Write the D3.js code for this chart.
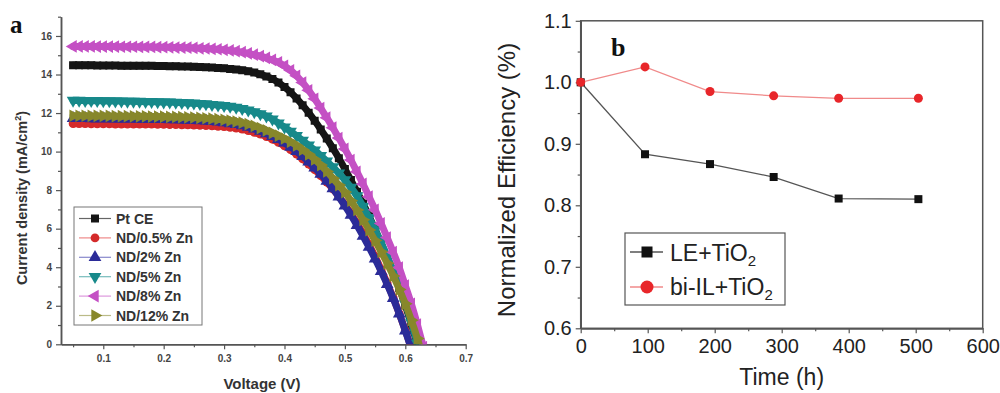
<!DOCTYPE html>
<html><head><meta charset="utf-8">
<script src="https://cdn.jsdelivr.net/npm/d3@7"></script>
<style>body{margin:0;background:#fff}svg{display:block}</style>
</head><body>
<svg id="chart" width="1000" height="393"></svg>
<script>
// ---------- Panel a data ----------
const voltage = [0.05,0.06,0.07,0.08,0.09,0.10,0.11,0.12,0.13,0.14,0.15,0.16,0.17,0.18,0.19,0.20,0.21,0.22,0.23,0.24,0.25,0.26,0.27,0.28,0.29,0.30,0.31,0.32,0.33,0.34,0.35,0.36,0.37,0.38,0.39,0.40,0.41,0.42,0.43,0.44,0.45,0.46,0.47,0.48,0.49,0.50,0.51,0.52,0.53,0.54,0.55,0.56,0.57,0.58,0.59,0.60,0.61,0.62,0.63];
const seriesNames = ["Pt CE","ND/0.5% Zn","ND/2% Zn","ND/5% Zn","ND/8% Zn","ND/12% Zn"];
const jPtCE = [14.48,14.48,14.48,14.48,14.47,14.47,14.47,14.47,14.46,14.46,14.46,14.45,14.45,14.45,14.44,14.44,14.43,14.43,14.42,14.41,14.40,14.39,14.38,14.36,14.34,14.32,14.29,14.26,14.22,14.17,14.10,14.01,13.90,13.77,13.58,13.35,13.08,12.76,12.40,12.02,11.60,11.15,10.68,10.18,9.66,9.10,8.52,7.92,7.30,6.64,5.96,5.25,4.52,3.75,2.92,2.02,1.04,-0.02,-1.10];
const jZn05 = [11.45,11.45,11.45,11.44,11.44,11.44,11.44,11.43,11.43,11.43,11.43,11.42,11.42,11.42,11.41,11.41,11.40,11.40,11.39,11.38,11.37,11.36,11.35,11.33,11.31,11.29,11.26,11.22,11.16,11.09,11.00,10.90,10.78,10.64,10.48,10.30,10.10,9.87,9.62,9.35,9.06,8.75,8.42,8.06,7.67,7.25,6.79,6.29,5.75,5.17,4.55,3.89,3.18,2.42,1.60,0.72,-0.22,-1.25,-2.35];
const jZn2 = [11.72,11.72,11.72,11.71,11.71,11.71,11.71,11.70,11.70,11.70,11.70,11.69,11.69,11.68,11.68,11.67,11.66,11.66,11.65,11.64,11.63,11.61,11.59,11.57,11.54,11.50,11.46,11.41,11.35,11.27,11.18,11.07,10.94,10.79,10.63,10.45,10.24,10.01,9.75,9.47,9.16,8.83,8.47,8.08,7.65,7.19,6.70,6.18,5.62,5.04,4.43,3.79,3.11,2.38,1.58,0.70,-0.25,-1.30,-2.40];
const jZn5 = [12.65,12.65,12.64,12.64,12.64,12.63,12.63,12.62,12.62,12.61,12.61,12.60,12.59,12.59,12.58,12.57,12.56,12.55,12.54,12.52,12.51,12.49,12.47,12.44,12.41,12.38,12.34,12.29,12.23,12.15,12.06,11.96,11.84,11.68,11.48,11.27,11.05,10.82,10.58,10.33,10.07,9.79,9.50,9.20,8.88,8.53,8.14,7.70,7.16,6.57,5.94,5.27,4.56,3.81,3.00,2.12,1.13,0.05,-1.05];
const jZn8 = [15.46,15.46,15.46,15.46,15.45,15.45,15.45,15.45,15.44,15.44,15.44,15.43,15.43,15.43,15.42,15.42,15.41,15.40,15.40,15.39,15.38,15.36,15.35,15.33,15.31,15.28,15.25,15.21,15.16,15.10,15.03,14.95,14.86,14.76,14.63,14.45,14.22,13.93,13.58,13.18,12.74,12.26,11.76,11.24,10.70,10.14,9.56,8.95,8.32,7.66,6.98,6.27,5.54,4.78,3.98,3.05,2.10,1.02,-0.15];
const jZn12 = [11.86,11.86,11.86,11.85,11.85,11.85,11.85,11.84,11.84,11.84,11.83,11.83,11.83,11.82,11.82,11.81,11.80,11.80,11.79,11.78,11.77,11.75,11.73,11.71,11.68,11.65,11.61,11.56,11.50,11.42,11.33,11.22,11.10,10.97,10.83,10.68,10.51,10.32,10.10,9.86,9.60,9.30,8.97,8.62,8.26,7.90,7.45,6.97,6.46,5.93,5.38,4.80,4.20,3.55,2.85,2.10,1.25,0.30,-0.75];
const voltageTicks = [0.1,0.2,0.3,0.4,0.5,0.6,0.7];
const voltageMinor = [0.05,0.15,0.25,0.35,0.45,0.55,0.65];
const currentTicks = [0,2,4,6,8,10,12,14,16];
const currentMinor = [1,3,5,7,9,11,13,15,17];

// ---------- Panel b data ----------
const hours = [0,96,193,288,385,504];
const leTiO2 = [1.000,0.883,0.867,0.846,0.811,0.810];
const biIL = [1.000,1.025,0.985,0.978,0.974,0.974];
const timeTicks = [0,100,200,300,400,500,600];
const timeMinor = [50,150,250,350,450,550];
const effTicks = [0.6,0.7,0.8,0.9,1.0,1.1];
const effMinor = [0.65,0.75,0.85,0.95,1.05];

// ---------- styles ----------
const colors = ["#151515","#d42a2a","#2b2b98","#17898a","#c450c4","#87872b"];
const lightColors = ["#666","#e88","#88c","#7bb","#d9d","#bb8"];
const sans = "'Liberation Sans', Arial, sans-serif";
const serif = "'Liberation Serif', 'Times New Roman', serif";

const svg = d3.select("#chart");

// ================= Panel a =================
const xA = d3.scaleLinear().domain([0.03,0.7]).range([61,465.7]);
const yA = d3.scaleLinear().domain([0,17]).range([344.3,16.7]);
const gA = svg.append("g");

svg.append("defs").append("clipPath").attr("id","clipA")
  .append("rect").attr("x",xA(0.03)).attr("y",yA(17)).attr("width",xA(0.7)-xA(0.03)).attr("height",yA(0)-yA(17));

function styleAxis(g, fs, weight, color){
  g.select(".domain").attr("stroke","#555").attr("stroke-width",1.5);
  g.selectAll(".tick line").attr("stroke","#555").attr("stroke-width",1.2);
  g.selectAll(".tick text").attr("font-family",sans).attr("font-size",fs).attr("font-weight",weight).attr("fill",color);
}
// y axis a
const yAx = gA.append("g").attr("transform",`translate(${xA(0.03)},0)`)
  .call(d3.axisLeft(yA).tickValues(currentTicks).tickSize(5).tickSizeOuter(0).tickPadding(4).tickFormat(d3.format("d")));
styleAxis(yAx,"10px","bold","#444");
const yAm = gA.append("g").attr("transform",`translate(${xA(0.03)},0)`)
  .call(d3.axisLeft(yA).tickValues(currentMinor).tickSize(3).tickSizeOuter(0).tickFormat(""));
styleAxis(yAm,"10px","bold","#444");
// x axis a
const xAx = gA.append("g").attr("transform",`translate(0,${yA(0)})`)
  .call(d3.axisBottom(xA).tickValues(voltageTicks).tickSize(5).tickSizeOuter(0).tickPadding(6).tickFormat(d3.format(".1f")));
styleAxis(xAx,"10px","bold","#444");
const xAm = gA.append("g").attr("transform",`translate(0,${yA(0)})`)
  .call(d3.axisBottom(xA).tickValues(voltageMinor).tickSize(3).tickSizeOuter(0).tickFormat(""));
styleAxis(xAm,"10px","bold","#444");

const symTypes = [d3.symbolSquare,d3.symbolCircle,d3.symbolTriangle,d3.symbolTriangle,d3.symbolTriangle,d3.symbolTriangle];
const symRot = [0,0,0,180,-90,90];
const symSize = [64,60,70,70,70,70];
const seriesJ = [jPtCE,jZn05,jZn2,jZn5,jZn8,jZn12];

const plotA = gA.append("g").attr("clip-path","url(#clipA)");
const lineA = d3.line().x(d=>xA(d[0])).y(d=>yA(d[1])).curve(d3.curveMonotoneX);
seriesJ.forEach((arr,i)=>{
  const pts = voltage.map((v,k)=>[v,arr[k]]);
  const g = plotA.append("g");
  g.append("path").attr("d",lineA(pts)).attr("fill","none").attr("stroke",colors[i])
    .attr("stroke-width",7).attr("stroke-linejoin","round").attr("stroke-linecap","round");
  g.selectAll("path.m").data(pts).enter().append("path").attr("class","m")
    .attr("d",d3.symbol().type(symTypes[i]).size(symSize[i]))
    .attr("transform",d=>`translate(${xA(d[0])},${yA(d[1])}) rotate(${symRot[i]})`)
    .attr("fill",colors[i]);
});

// legend a
const legA = gA.append("g");
legA.append("rect").attr("x",74).attr("y",207).attr("width",128).attr("height",118)
  .attr("fill","#fff").attr("stroke","#777").attr("stroke-width",1);
seriesNames.forEach((n,i)=>{
  const cy = 218.5 + 19.4*i;
  legA.append("line").attr("x1",79).attr("x2",111).attr("y1",cy).attr("y2",cy)
    .attr("stroke",lightColors[i]).attr("stroke-width",1.2);
  legA.append("path").attr("d",d3.symbol().type(symTypes[i]).size(symSize[i]))
    .attr("transform",`translate(95,${cy}) rotate(${symRot[i]})`).attr("fill",colors[i]);
  legA.append("text").attr("x",116).attr("y",cy+5).text(n)
    .attr("font-family",sans).attr("font-size","14px").attr("font-weight","bold").attr("fill","#333");
});

// labels a
gA.append("text").attr("x",262).attr("y",389).attr("text-anchor","middle")
  .attr("font-family",sans).attr("font-size","15px").attr("font-weight","bold").attr("fill","#333").text("Voltage (V)");
const yLabA = gA.append("text").attr("transform","translate(27,198) rotate(-90)").attr("text-anchor","middle")
  .attr("font-family",sans).attr("font-size","14.5px").attr("font-weight","bold").attr("fill","#333");
yLabA.append("tspan").text("Current density (mA/cm");
yLabA.append("tspan").attr("dy","-6").attr("font-size","9px").text("2");
yLabA.append("tspan").attr("dy","6").text(")");
gA.append("text").attr("x",10).attr("y",33).attr("font-family",serif).attr("font-size","25px")
  .attr("font-weight","bold").attr("fill","#111").text("a");

// ================= Panel b =================
const xB = d3.scaleLinear().domain([0,600]).range([580.7,982.7]);
const yB = d3.scaleLinear().domain([0.6,1.1]).range([328.3,20.8]);
const gB = svg.append("g");

gB.append("rect").attr("x",xB(0)).attr("y",yB(1.1)).attr("width",xB(600)-xB(0)).attr("height",yB(0.6)-yB(1.1))
  .attr("fill","none").attr("stroke","#555").attr("stroke-width",1.5);

const yBx = gB.append("g").attr("transform",`translate(${xB(0)},0)`)
  .call(d3.axisLeft(yB).tickValues(effTicks).tickSize(5).tickSizeOuter(0).tickPadding(4).tickFormat(d3.format(".1f")));
styleAxis(yBx,"20px","normal","#222");
const yBm = gB.append("g").attr("transform",`translate(${xB(0)},0)`)
  .call(d3.axisLeft(yB).tickValues(effMinor).tickSize(3).tickSizeOuter(0).tickFormat(""));
styleAxis(yBm,"20px","normal","#222");
const xBx = gB.append("g").attr("transform",`translate(0,${yB(0.6)})`)
  .call(d3.axisBottom(xB).tickValues(timeTicks).tickSize(5).tickSizeOuter(0).tickPadding(6).tickFormat(d3.format("d")));
styleAxis(xBx,"20px","normal","#222");
const xBm = gB.append("g").attr("transform",`translate(0,${yB(0.6)})`)
  .call(d3.axisBottom(xB).tickValues(timeMinor).tickSize(3).tickSizeOuter(0).tickFormat(""));
styleAxis(xBm,"20px","normal","#222");

const lineB = d3.line().x(d=>xB(d[0])).y(d=>yB(d[1]));
const ptsLE = hours.map((h,k)=>[h,leTiO2[k]]);
const ptsIL = hours.map((h,k)=>[h,biIL[k]]);
gB.append("path").attr("d",lineB(ptsLE)).attr("fill","none").attr("stroke","#555").attr("stroke-width",1.3);
gB.selectAll("rect.le").data(ptsLE).enter().append("rect").attr("class","le")
  .attr("x",d=>xB(d[0])-4).attr("y",d=>yB(d[1])-4).attr("width",8).attr("height",8).attr("fill","#111");
gB.append("path").attr("d",lineB(ptsIL)).attr("fill","none").attr("stroke","#f08a8a").attr("stroke-width",1.3);
gB.selectAll("circle.il").data(ptsIL).enter().append("circle").attr("class","il")
  .attr("cx",d=>xB(d[0])).attr("cy",d=>yB(d[1])).attr("r",4.5).attr("fill","#e8262a");

// legend b
const legB = gB.append("g");
legB.append("rect").attr("x",625).attr("y",233).attr("width",160).attr("height",72)
  .attr("fill","#fff").attr("stroke","#555").attr("stroke-width",1.2);
legB.append("line").attr("x1",630).attr("x2",663).attr("y1",252).attr("y2",252).attr("stroke","#555").attr("stroke-width",1.3);
legB.append("rect").attr("x",647-5.5).attr("y",252-5.5).attr("width",11).attr("height",11).attr("fill","#111");
legB.append("line").attr("x1",630).attr("x2",663).attr("y1",287).attr("y2",287).attr("stroke","#f08a8a").attr("stroke-width",1.3);
legB.append("circle").attr("cx",647).attr("cy",287).attr("r",6.5).attr("fill","#e8262a");
function subText(g,x,y,main){
  const t = g.append("text").attr("x",x).attr("y",y).attr("font-family",sans).attr("font-size","23px").attr("fill","#222");
  t.append("tspan").text(main);
  t.append("tspan").attr("dy","5").attr("font-size","15px").text("2");
  return t;
}
subText(legB,670,261,"LE+TiO");
subText(legB,670,295,"bi-IL+TiO");

// labels b
gB.append("text").attr("x",xB(300)).attr("y",385).attr("text-anchor","middle")
  .attr("font-family",sans).attr("font-size","23px").attr("fill","#222").text("Time (h)");
gB.append("text").attr("transform","translate(515,180) rotate(-90)").attr("text-anchor","middle")
  .attr("font-family",sans).attr("font-size","24px").attr("fill","#222").text("Normalized Efficiency (%)");
gB.append("text").attr("x",611).attr("y",56).attr("font-family",serif).attr("font-size","26px")
  .attr("font-weight","bold").attr("fill","#111").text("b");
</script>
</body></html>
